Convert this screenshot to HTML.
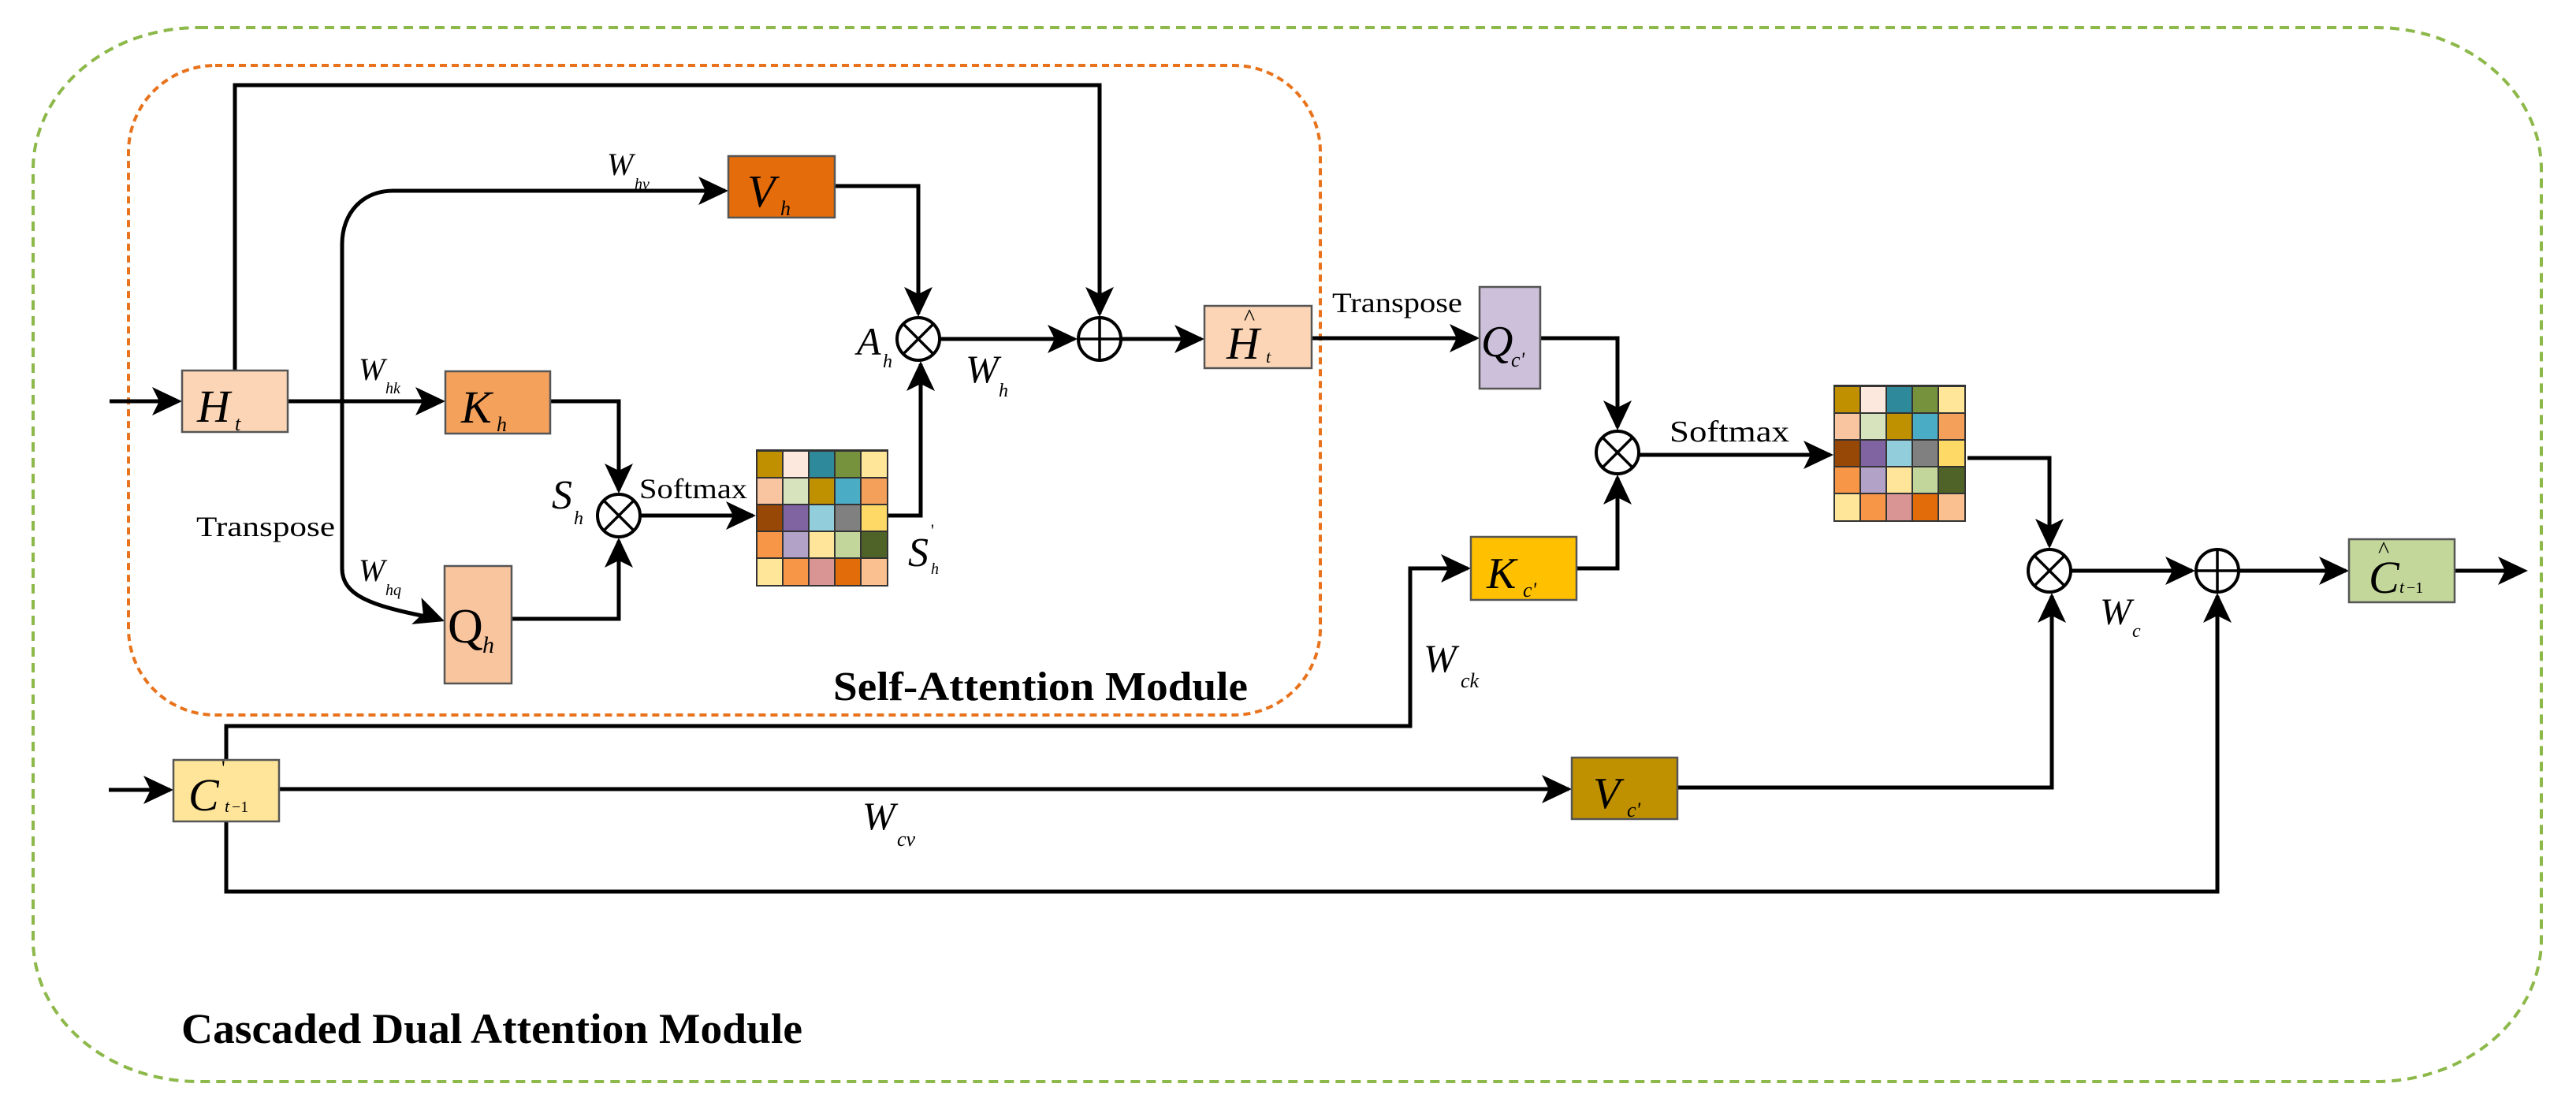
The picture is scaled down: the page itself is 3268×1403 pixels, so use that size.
<!DOCTYPE html>
<html><head><meta charset="utf-8"><style>
html,body{margin:0;padding:0;background:#fff}
svg{display:block}
text{font-family:"Liberation Serif",serif;fill:#000}
.i{font-style:italic}
.b{font-weight:bold}
</style></head><body>
<svg width="3268" height="1403" viewBox="0 0 3268 1403" xmlns="http://www.w3.org/2000/svg">
<defs>
<polygon id="ar" points="0,0 -38,-18 -29,0 -38,18" fill="#000"/>
</defs>
<!-- module borders -->
<rect x="42" y="35" width="3182" height="1337" rx="210" ry="180" fill="none" stroke="#8db84a" stroke-width="4" stroke-dasharray="12,8"/>
<rect x="163" y="83" width="1512" height="824" rx="110" ry="110" fill="none" stroke="#e8731c" stroke-width="4" stroke-dasharray="9,6"/>

<g fill="none" stroke="#000" stroke-width="5">
<path d="M139,509 H225"/>
<path d="M298,470 V108 H1395 V398"/>
<path d="M365,509 H560"/>
<path d="M920,242 H499 C460,242 434,270 434,310 V721 C434,755 470,768 540,782"/>
<path d="M1059,236 H1165 V398"/>
<path d="M698,509 H785 V622"/>
<path d="M649,785 H785 V686"/>
<path d="M813,654 H955"/>
<path d="M1127,654 H1168 V462"/>
<path d="M1193,430 H1363"/>
<path d="M1423,430 H1524"/>
<path d="M1664,429 H1873"/>
<path d="M1954,429 H2052 V542"/>
<path d="M2000,721 H2052 V606"/>
<path d="M2080,577 H2322"/>
<path d="M2496,581 H2600 V692"/>
<path d="M2628,724 H2781"/>
<path d="M2841,724 H2976"/>
<path d="M3114,724 H3200"/>
<path d="M138,1002 H216"/>
<path d="M287,964 V921 H1789 V721 H1862"/>
<path d="M354,1001 H1990"/>
<path d="M2128,999 H2603 V756"/>
<path d="M287,1042 V1131 H2813 V756"/>
</g>
<!-- arrowheads -->
<use href="#ar" transform="translate(231,509)"/>
<use href="#ar" transform="translate(1395,402) rotate(90)"/>
<use href="#ar" transform="translate(565,509)"/>
<use href="#ar" transform="translate(924,242)"/>
<use href="#ar" transform="translate(564,788) rotate(20)"/>
<use href="#ar" transform="translate(1165,402) rotate(90)"/>
<use href="#ar" transform="translate(785,626) rotate(90)"/>
<use href="#ar" transform="translate(785,682) rotate(-90)"/>
<use href="#ar" transform="translate(959,654)"/>
<use href="#ar" transform="translate(1168,458) rotate(-90)"/>
<use href="#ar" transform="translate(1367,430)"/>
<use href="#ar" transform="translate(1528,430)"/>
<use href="#ar" transform="translate(1877,429)"/>
<use href="#ar" transform="translate(2052,546) rotate(90)"/>
<use href="#ar" transform="translate(2052,602) rotate(-90)"/>
<use href="#ar" transform="translate(2326,577)"/>
<use href="#ar" transform="translate(2600,696) rotate(90)"/>
<use href="#ar" transform="translate(2785,724)"/>
<use href="#ar" transform="translate(2980,724)"/>
<use href="#ar" transform="translate(3207,724)"/>
<use href="#ar" transform="translate(220,1002)"/>
<use href="#ar" transform="translate(1866,721)"/>
<use href="#ar" transform="translate(1994,1001)"/>
<use href="#ar" transform="translate(2603,752) rotate(-90)"/>
<use href="#ar" transform="translate(2813,752) rotate(-90)"/>

<!-- circles -->
<g fill="#fff" stroke="#000" stroke-width="4">
<circle cx="785" cy="654" r="27"/><circle cx="1165" cy="430" r="27"/><circle cx="1395" cy="430" r="27"/>
<circle cx="2052" cy="574" r="27"/><circle cx="2600" cy="724" r="27"/><circle cx="2813" cy="724" r="27"/>
</g>
<g stroke="#000" stroke-width="3.5">
<path d="M767,636 L803,672 M803,636 L767,672"/>
<path d="M1147,412 L1183,448 M1183,412 L1147,448"/>
<path d="M2034,556 L2070,592 M2070,556 L2034,592"/>
<path d="M2582,706 L2618,742 M2618,706 L2582,742"/>
<path d="M1395,403 V457 M1368,430 H1422"/>
<path d="M2813,697 V751 M2786,724 H2840"/>
</g>

<!-- boxes -->
<g stroke="#555" stroke-width="2.5">
<rect x="231" y="470" width="134" height="78" fill="#fbd5b5"/>
<rect x="565" y="471" width="133" height="79" fill="#f4a15c"/>
<rect x="924" y="198" width="135" height="78" fill="#e46c0a"/>
<rect x="564" y="718" width="85" height="149" fill="#f9c59f"/>
<rect x="1528" y="388" width="136" height="79" fill="#fbd5b5"/>
<rect x="1877" y="364" width="77" height="129" fill="#ccc0da"/>
<rect x="1866" y="681" width="134" height="80" fill="#ffc000"/>
<rect x="1994" y="961" width="134" height="78" fill="#bf9000"/>
<rect x="2980" y="684" width="134" height="80" fill="#c4d79b"/>
<rect x="220" y="964" width="134" height="78" fill="#ffe599"/>
</g>

<!-- matrices -->
<g id="m1" transform="translate(959,570)">
<rect x="0" y="0" width="168" height="174" fill="#333"/>
<g stroke="none">
<rect x="2" y="3" width="31" height="32" fill="#c09000"/><rect x="35" y="3" width="31" height="32" fill="#fce8dc"/><rect x="68" y="3" width="31" height="32" fill="#2e8a9a"/><rect x="101" y="3" width="31" height="32" fill="#76923c"/><rect x="134" y="3" width="32" height="32" fill="#ffe699"/>
<rect x="2" y="37" width="31" height="32" fill="#f8c5a0"/><rect x="35" y="37" width="31" height="32" fill="#d6e3bc"/><rect x="68" y="37" width="31" height="32" fill="#bf9000"/><rect x="101" y="37" width="31" height="32" fill="#4bacc6"/><rect x="134" y="37" width="32" height="32" fill="#f4a05a"/>
<rect x="2" y="71" width="31" height="32" fill="#974706"/><rect x="35" y="71" width="31" height="32" fill="#8064a2"/><rect x="68" y="71" width="31" height="32" fill="#92cddc"/><rect x="101" y="71" width="31" height="32" fill="#808080"/><rect x="134" y="71" width="32" height="32" fill="#ffd966"/>
<rect x="2" y="105" width="31" height="32" fill="#f79646"/><rect x="35" y="105" width="31" height="32" fill="#b2a2c7"/><rect x="68" y="105" width="31" height="32" fill="#ffe599"/><rect x="101" y="105" width="31" height="32" fill="#c2d69b"/><rect x="134" y="105" width="32" height="32" fill="#4f6228"/>
<rect x="2" y="139" width="31" height="33" fill="#ffe699"/><rect x="35" y="139" width="31" height="33" fill="#f79646"/><rect x="68" y="139" width="31" height="33" fill="#d99594"/><rect x="101" y="139" width="31" height="33" fill="#e36c0a"/><rect x="134" y="139" width="32" height="33" fill="#fac090"/>
</g></g>
<use href="#m1" transform="translate(1367,-82)"/>

<!-- box labels -->
<text x="250" y="535" class="i" font-size="58">H</text><text x="298" y="546" class="i" font-size="26">t</text>
<text x="585" y="536" class="i" font-size="58">K</text><text x="630" y="547" class="i" font-size="26">h</text>
<text x="948" y="262" class="i" font-size="58">V</text><text x="990" y="273" class="i" font-size="26">h</text>
<text x="568" y="815" font-size="62">Q</text><text x="612" y="828" class="i" font-size="30">h</text>
<text x="1556" y="455" class="i" font-size="58">H</text><text x="1578" y="412" font-size="30">^</text><text x="1606" y="460" class="i" font-size="22">t</text>
<text x="1879" y="452" class="i" font-size="56">Q</text><text x="1917" y="465" class="i" font-size="26">c'</text>
<text x="1886" y="746" class="i" font-size="56">K</text><text x="1932" y="757" class="i" font-size="26">c'</text>
<text x="2021" y="1025" class="i" font-size="56">V</text><text x="2064" y="1036" class="i" font-size="26">c'</text>
<text x="3005" y="752" class="i" font-size="58">C</text><text x="3017" y="707" font-size="30">^</text><text x="3044" y="752" class="i" font-size="22">t</text><text x="3053" y="752" font-size="20">−1</text>
<text x="239" y="1028" class="i" font-size="58">C</text><text x="281" y="983" font-size="26">'</text><text x="285" y="1030" class="i" font-size="22">t</text><text x="294" y="1030" font-size="20">−1</text>

<!-- other labels -->
<text x="770" y="222" class="i" font-size="40">W</text><text x="805" y="240" class="i" font-size="20">hv</text>
<text x="455" y="482" class="i" font-size="40">W</text><text x="489" y="499" class="i" font-size="20">hk</text>
<text x="455" y="737" class="i" font-size="40">W</text><text x="489" y="755" class="i" font-size="20">hq</text>
<text x="249" y="680" font-size="36" textLength="176" lengthAdjust="spacingAndGlyphs">Transpose</text>
<text x="700" y="645" class="i" font-size="52">S</text><text x="728" y="665" class="i" font-size="24">h</text>
<text x="811" y="632" font-size="36" textLength="137" lengthAdjust="spacingAndGlyphs">Softmax</text>
<text x="1152" y="718" class="i" font-size="52">S</text><text x="1181" y="680" font-size="22">'</text><text x="1181" y="728" class="i" font-size="20">h</text>
<text x="1087" y="450" class="i" font-size="50">A</text><text x="1120" y="466" class="i" font-size="24">h</text>
<text x="1225" y="485" class="i" font-size="50">W</text><text x="1267" y="503" class="i" font-size="24">h</text>
<text x="1690" y="396" font-size="36" textLength="165" lengthAdjust="spacingAndGlyphs">Transpose</text>
<text x="2118" y="560" font-size="38" textLength="152" lengthAdjust="spacingAndGlyphs">Softmax</text>
<text x="1806" y="852" class="i" font-size="50">W</text><text x="1853" y="872" class="i" font-size="26">ck</text>
<text x="2664" y="792" class="i" font-size="48">W</text><text x="2705" y="808" class="i" font-size="24">c</text>
<text x="1094" y="1052" class="i" font-size="50">W</text><text x="1138" y="1073" class="i" font-size="26">cv</text>
<text x="1057" y="888" class="b" font-size="52" textLength="526" lengthAdjust="spacingAndGlyphs">Self-Attention Module</text>
<text x="230" y="1323" class="b" font-size="54" textLength="788" lengthAdjust="spacingAndGlyphs">Cascaded Dual Attention Module</text>
</svg>
</body></html>
